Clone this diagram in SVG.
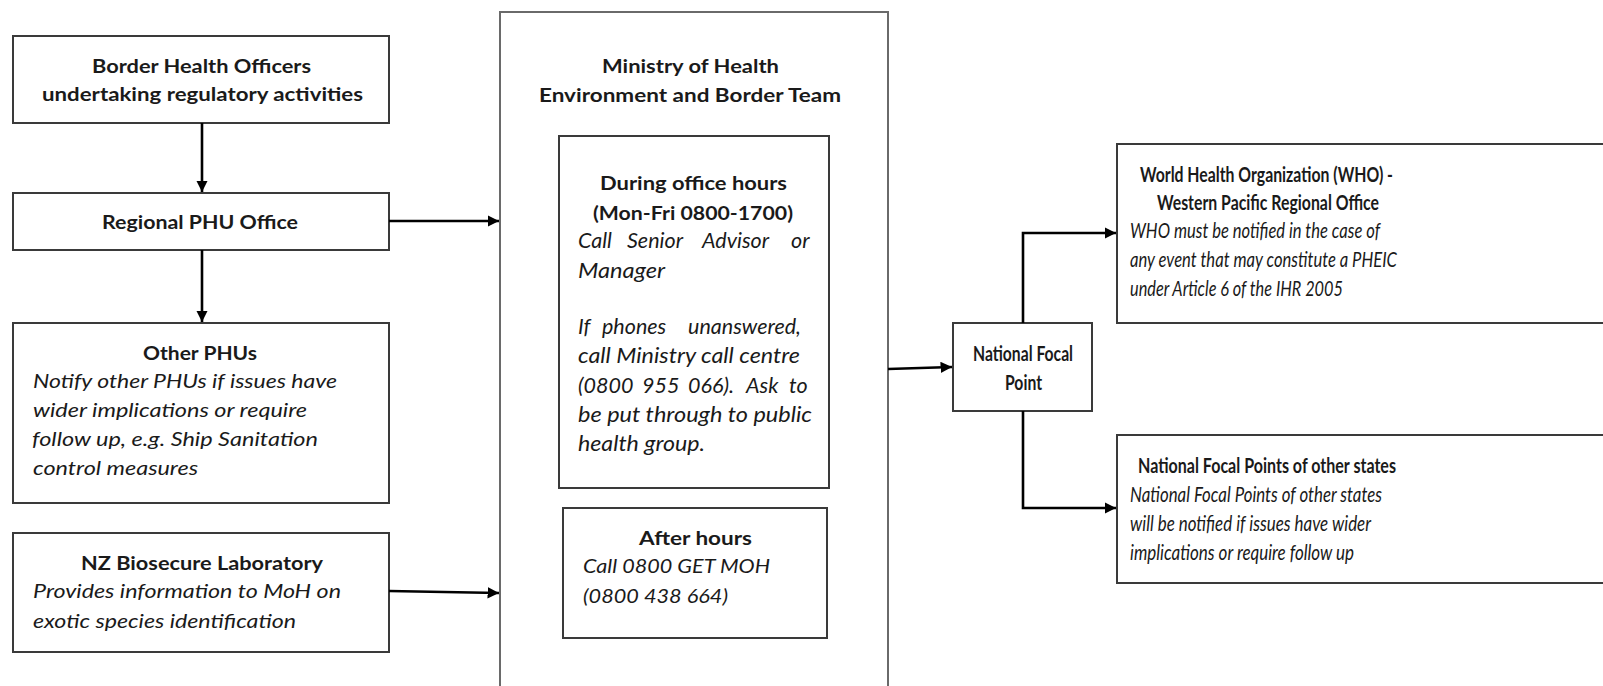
<svg xmlns="http://www.w3.org/2000/svg" width="1603" height="686" viewBox="0 0 1603 686">
<style>
  .box { fill: #ffffff; stroke: #3a3a3a; stroke-width: 2; }
  .outer { fill: #ffffff; stroke: #6a6a6a; stroke-width: 2; }
  .conn { fill: none; stroke: #000000; stroke-width: 2.6; }
  text { font-family: Lato, "Liberation Sans", sans-serif; fill: #1a1a1a; font-size: 19.5px; }
  .b { font-weight: bold; }
  .i { font-style: italic; }
  .big { font-size: 21.5px; }
  .r { font-size: 21px; }
</style>
<defs>
  <marker id="arr" viewBox="0 0 10 10" refX="10" refY="5" markerWidth="4.4" markerHeight="4.4" orient="auto" markerUnits="strokeWidth">
    <path d="M0,0 L10,5 L0,10 z" fill="#000000"/>
  </marker>
</defs>

<g id="ministry">
  <rect class="outer" x="500" y="12" width="388" height="700"/>
  <text class="b" x="602" y="73" textLength="177" lengthAdjust="spacingAndGlyphs">Ministry of Health</text>
  <text class="b" x="539" y="102" textLength="302" lengthAdjust="spacingAndGlyphs">Environment and Border Team</text>
</g>

<g id="office-hours">
  <rect class="box" x="559" y="136" width="270" height="352"/>
  <text class="b" x="600" y="190" textLength="187" lengthAdjust="spacingAndGlyphs">During office hours</text>
  <text class="b" x="593" y="220" textLength="200" lengthAdjust="spacingAndGlyphs">(Mon-Fri 0800-1700)</text>
  <text class="i big" y="248"><tspan x="578">Call</tspan><tspan x="627">Senior</tspan><tspan x="702">Advisor</tspan><tspan x="791">or</tspan></text>
  <text class="i big" x="578" y="278" textLength="87" lengthAdjust="spacingAndGlyphs">Manager</text>
  <text class="i big" y="334"><tspan x="578">If</tspan><tspan x="602">phones</tspan><tspan x="688">unanswered,</tspan></text>
  <text class="i big" x="578" y="363" textLength="222" lengthAdjust="spacingAndGlyphs">call Ministry call centre</text>
  <text class="i big" y="393"><tspan x="578">(0800</tspan><tspan x="642">955</tspan><tspan x="688">066).</tspan><tspan x="746">Ask</tspan><tspan x="789">to</tspan></text>
  <text class="i big" x="578" y="422" textLength="234" lengthAdjust="spacingAndGlyphs">be put through to public</text>
  <text class="i big" x="578" y="451" textLength="127" lengthAdjust="spacingAndGlyphs">health group.</text>
</g>

<g id="after-hours">
  <rect class="box" x="563" y="508" width="264" height="130"/>
  <text class="b" x="639" y="545" textLength="113" lengthAdjust="spacingAndGlyphs">After hours</text>
  <text class="i" x="583" y="573" textLength="187" lengthAdjust="spacingAndGlyphs">Call 0800 GET MOH</text>
  <text class="i" x="583" y="603" textLength="145" lengthAdjust="spacingAndGlyphs">(0800 438 664)</text>
</g>

<g id="border-health">
  <rect class="box" x="13" y="36" width="376" height="87"/>
  <text class="b" x="92" y="73" textLength="219" lengthAdjust="spacingAndGlyphs">Border Health Officers</text>
  <text class="b" x="42" y="101" textLength="321" lengthAdjust="spacingAndGlyphs">undertaking regulatory activities</text>
</g>

<g id="regional-phu">
  <rect class="box" x="13" y="193" width="376" height="57"/>
  <text class="b" x="102" y="229" textLength="196" lengthAdjust="spacingAndGlyphs">Regional PHU Office</text>
</g>

<g id="other-phus">
  <rect class="box" x="13" y="323" width="376" height="180"/>
  <text class="b" x="143" y="360" textLength="114" lengthAdjust="spacingAndGlyphs">Other PHUs</text>
  <text class="i" x="33" y="388" textLength="304" lengthAdjust="spacingAndGlyphs">Notify other PHUs if issues have</text>
  <text class="i" x="33" y="417" textLength="274" lengthAdjust="spacingAndGlyphs">wider implications or require</text>
  <text class="i" x="32" y="446" textLength="286" lengthAdjust="spacingAndGlyphs">follow up, e.g. Ship Sanitation</text>
  <text class="i" x="33" y="475" textLength="165" lengthAdjust="spacingAndGlyphs">control measures</text>
</g>

<g id="nz-biosecure">
  <rect class="box" x="13" y="533" width="376" height="119"/>
  <text class="b" x="81" y="570" textLength="242" lengthAdjust="spacingAndGlyphs">NZ Biosecure Laboratory</text>
  <text class="i" x="33" y="598" textLength="308" lengthAdjust="spacingAndGlyphs">Provides information to MoH on</text>
  <text class="i" x="33" y="628" textLength="263" lengthAdjust="spacingAndGlyphs">exotic species identification</text>
</g>

<g id="national-focal-point">
  <rect class="box" x="953" y="323" width="139" height="88"/>
  <text class="b r" x="973" y="361" textLength="100" lengthAdjust="spacingAndGlyphs">National Focal</text>
  <text class="b r" x="1005" y="390" textLength="37" lengthAdjust="spacingAndGlyphs">Point</text>
</g>

<g id="who">
  <rect class="box" x="1117" y="144" width="500" height="179"/>
  <text class="b r" x="1140" y="182" textLength="253" lengthAdjust="spacingAndGlyphs">World Health Organization (WHO) -</text>
  <text class="b r" x="1157" y="210" textLength="222" lengthAdjust="spacingAndGlyphs">Western Pacific Regional Office</text>
  <text class="i r" x="1130" y="238" textLength="250" lengthAdjust="spacingAndGlyphs">WHO must be notified in the case of</text>
  <text class="i r" x="1130" y="267" textLength="267" lengthAdjust="spacingAndGlyphs">any event that may constitute a PHEIC</text>
  <text class="i r" x="1130" y="296" textLength="213" lengthAdjust="spacingAndGlyphs">under Article 6 of the IHR 2005</text>
</g>

<g id="nfp-other-states">
  <rect class="box" x="1117" y="435" width="500" height="148"/>
  <text class="b r" x="1138" y="473" textLength="258" lengthAdjust="spacingAndGlyphs">National Focal Points of other states</text>
  <text class="i r" x="1130" y="502" textLength="252" lengthAdjust="spacingAndGlyphs">National Focal Points of other states</text>
  <text class="i r" x="1130" y="531" textLength="241" lengthAdjust="spacingAndGlyphs">will be notified if issues have wider</text>
  <text class="i r" x="1130" y="560" textLength="224" lengthAdjust="spacingAndGlyphs">implications or require follow up</text>
</g>

<g id="connectors">
  <line class="conn" x1="202" y1="123" x2="202" y2="192" marker-end="url(#arr)"/>
  <line class="conn" x1="202" y1="250" x2="202" y2="322" marker-end="url(#arr)"/>
  <line class="conn" x1="389" y1="221" x2="499" y2="221" marker-end="url(#arr)"/>
  <line class="conn" x1="389" y1="591" x2="499" y2="593" marker-end="url(#arr)"/>
  <line class="conn" x1="888" y1="369" x2="952" y2="367" marker-end="url(#arr)"/>
  <polyline class="conn" points="1023,323 1023,233 1116,233" marker-end="url(#arr)"/>
  <polyline class="conn" points="1023,411 1023,508 1116,508" marker-end="url(#arr)"/>
</g>
</svg>
